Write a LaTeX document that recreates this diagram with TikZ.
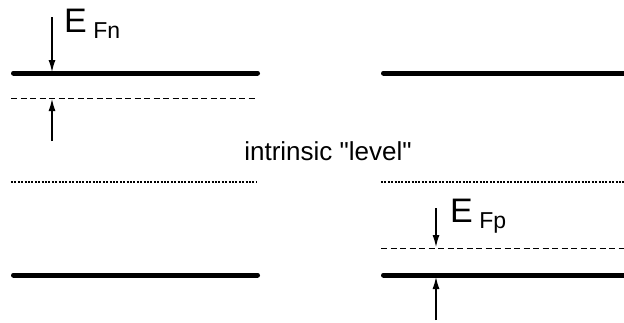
\documentclass[tikz,border=0pt]{standalone}
\usepackage{fontspec}
\setmainfont{Liberation Sans}[Ligatures=TeXOff]
\usetikzlibrary{arrows.meta}

\tikzset{
	band/.style={line width=5pt, line cap=round},
	quasi/.style={line width=1pt, dash pattern=on 6pt off 3.5pt},
	midgap/.style={line width=2.2pt, dash pattern=on 2pt off 1.4pt},
	gap/.style={line width=1.2pt, -{Latex[length=12pt,width=7pt]}},
	bigE/.style={inner sep=0pt, anchor=base west, font=\fontsize{34}{34}\selectfont},
	midtext/.style={inner sep=0pt, anchor=base, font=\fontsize{26}{26}\selectfont},
}

\begin{document}
\begin{tikzpicture}[x=1pt, y=-1pt]
	\useasboundingbox (0,0) rectangle (624,322);

	% band edges, n side and p side
	\coordinate (ecl) at (13.5,73);  \coordinate (ecr) at (257.5,73);
	\coordinate (evl) at (13.5,275); \coordinate (evr) at (257.5,275);
	\coordinate (ecl2) at (383.5,73);  \coordinate (ecr2) at (626,73);
	\coordinate (evl2) at (383.5,275); \coordinate (evr2) at (626,275);
	% intrinsic level
	\coordinate (eil) at (11,182);  \coordinate (eir) at (257,182);
	\coordinate (eil2) at (381,182); \coordinate (eir2) at (624,182);
	% quasi fermi levels
	\coordinate (fnl) at (11,98);   \coordinate (fnr) at (255,98);
	\coordinate (fpl) at (381,248); \coordinate (fpr) at (624,248);
	% arrow ends
	\coordinate (na) at (52,17);  \coordinate (nb) at (52,72);
	\coordinate (nc) at (52,141); \coordinate (nd) at (52,99);
	\coordinate (pa) at (436,208); \coordinate (pb) at (436,247);
	\coordinate (pc) at (436,320); \coordinate (pd) at (436,277);

	\draw[band] (ecl) -- (ecr);
	\draw[band] (evl) -- (evr);
	\draw[band] (ecl2) -- (ecr2);
	\draw[band] (evl2) -- (evr2);
	\draw[midgap] (eil) -- (eir);
	\draw[midgap] (eil2) -- (eir2);
	\draw[quasi] (fnl) -- (fnr);
	\draw[quasi] (fpl) -- (fpr);

	\draw[gap] (na) -- (nb);
	\draw[gap] (nc) -- (nd);
	\draw[gap] (pa) -- (pb);
	\draw[gap] (pc) -- (pd);

	\node[bigE] (efn) at (64,32) {E\raisebox{-6pt}{\fontsize{23}{23}\selectfont\ Fn}};
	\node[bigE] (efp) at (450,222) {E\raisebox{-6pt}{\fontsize{23}{23}\selectfont\ Fp}};
	\node[midtext] (ei) at (328,160) {intrinsic "level"};
\end{tikzpicture}
\end{document}
